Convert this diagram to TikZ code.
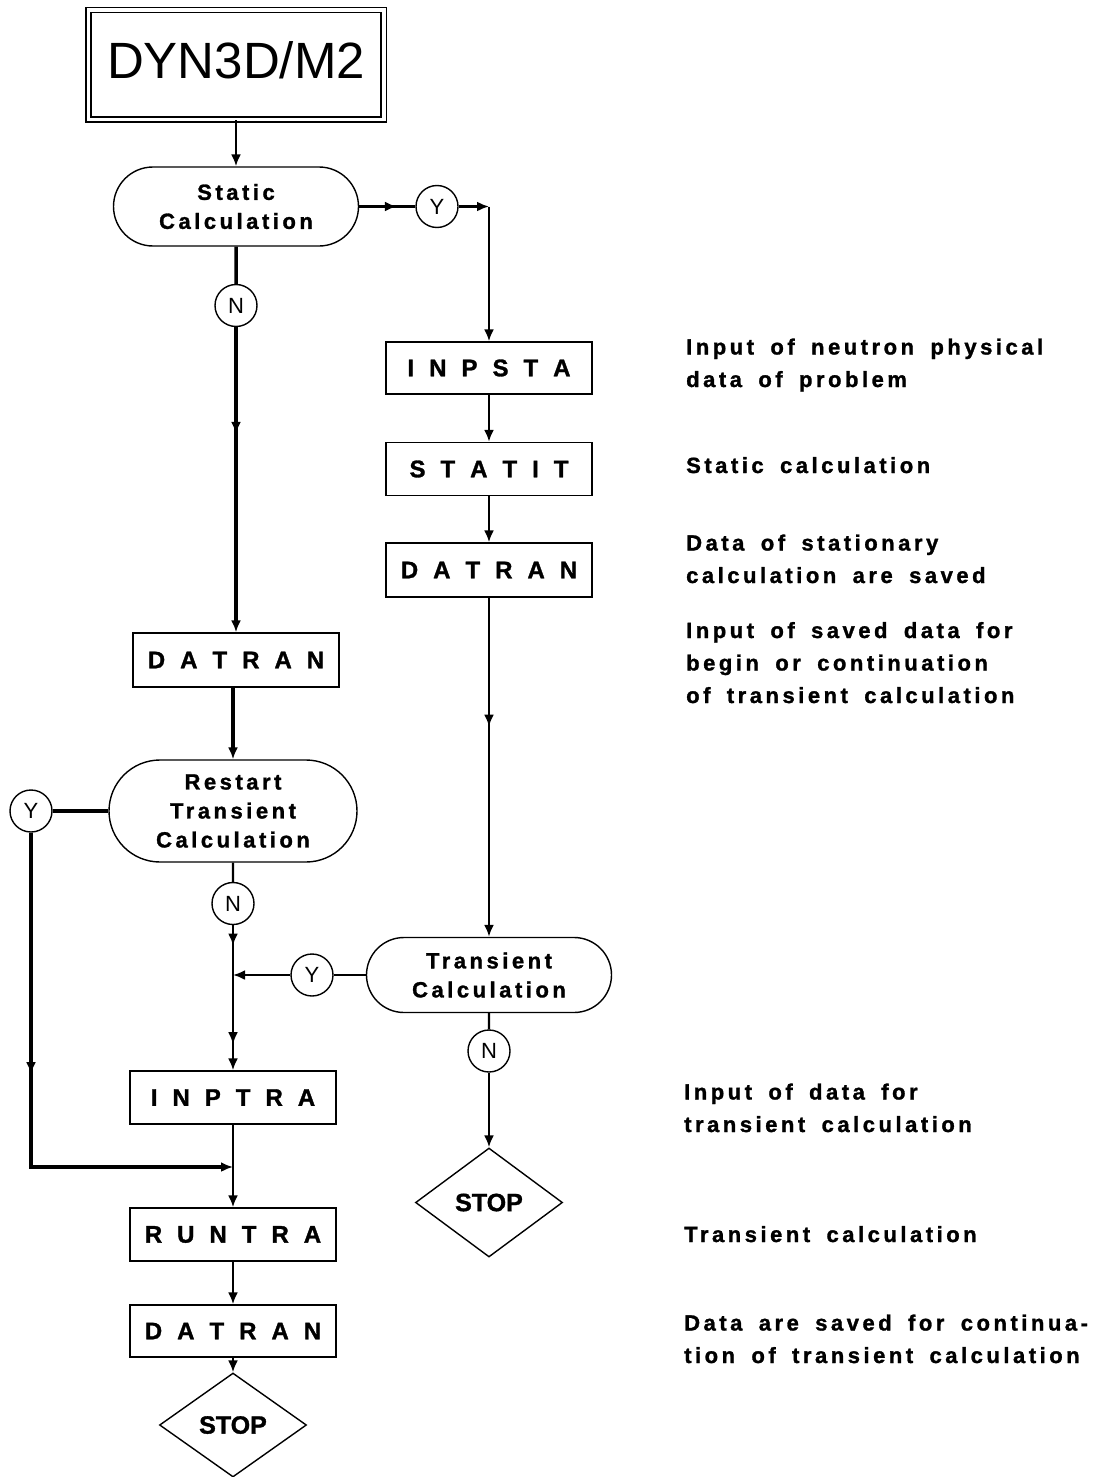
\documentclass[tikz,border=0pt]{standalone}
\usepackage{fontspec}
\setmainfont{Liberation Sans}[BoldFeatures={FakeBold=1.3}]
\newfontfamily\lblfont[LetterSpace=16,WordSpace=1.7,BoldFeatures={FakeBold=1.3}]{Liberation Sans}
\usetikzlibrary{arrows.meta,shapes.geometric,shapes.misc,decorations.markings}
\newcommand\gp{\hspace{15pt}}
\begin{document}
\begin{tikzpicture}[x=1pt,y=-1pt,
  box/.style={draw, line width=1.4pt, minimum width=206pt, minimum height=53pt, inner sep=0pt,
    font=\bfseries\fontsize{24}{28}\selectfont},
  decide/.style={rounded rectangle, draw, line width=1.4pt, inner sep=0pt, align=center,
    font={\lblfont\bfseries\fontsize{22}{29}\selectfont}},
  circ/.style={circle, draw, line width=1.4pt, minimum size=42pt, inner sep=0pt,
    font=\fontsize{22}{26}\selectfont},
  stopd/.style={diamond, draw, line width=1.4pt, minimum width=147pt, minimum height=106pt, inner sep=0pt,
    font=\bfseries\fontsize{25}{30}\selectfont},
  desc/.style={anchor=base west, align=left, inner sep=0pt,
    font={\lblfont\bfseries\fontsize{22}{32.5}\selectfont}},
  conn/.style={line width=2.3pt},
  thickconn/.style={line width=3.5pt},
  arr/.style={-{Latex[length=12pt,width=10pt]}},
  midarr/.style={postaction={decorate}, decoration={markings,
    mark=at position #1 with {\arrow{Latex[length=12pt,width=10pt]}}}},
  midarrtwo/.style 2 args={postaction={decorate}, decoration={markings,
    mark=at position #1 with {\arrow{Latex[length=12pt,width=10pt]}},
    mark=at position #2 with {\arrow{Latex[length=12pt,width=10pt]}}}}
]
\useasboundingbox (0,0) rectangle (1118,1477);
\fill[white] (0,0) rectangle (1118,1477);

% title
\node[draw, double, double distance=3.5pt, line width=1.6pt, minimum width=295.5pt, minimum height=109.5pt,
  inner sep=0pt, text depth=10pt, font=\fontsize{51}{60}\selectfont] (dyn) at (236,64.75) {DYN3D/M2};

% left / main column
\node[decide, minimum width=245pt, minimum height=79pt] (sc) at (236,206.5) {Static\\Calculation};
\node[circ] (nS) at (236,305.5) {N};
\node[circ] (yS) at (437,206.5) {Y};
\node[box, minimum height=54pt] (datranL) at (236,660) {D\gp A\gp T\gp R\gp A\gp N};
\node[decide, minimum width=248pt, minimum height=102pt] (rs) at (233,811) {Restart\\Transient\\Calculation};
\node[circ] (yR) at (31,811) {Y};
\node[circ] (nR) at (233,903.5) {N};
\node[box] (inptra) at (233,1097.5) {I\gp N\gp P\gp T\gp R\gp A};
\node[box] (runtra) at (233,1234.5) {R\gp U\gp N\gp T\gp R\gp A};
\node[box, minimum height=52pt] (datranB) at (233,1331) {D\gp A\gp T\gp R\gp A\gp N};
\node[stopd, minimum height=104pt] (stopB) at (233,1425) {STOP};

% right column
\node[box, minimum height=52pt] (inpsta) at (489,368) {I\gp N\gp P\gp S\gp T\gp A};
\node[box] (statit) at (489,469) {S\gp T\gp A\gp T\gp I\gp T};
\node[box, minimum height=54pt] (datranR) at (489,570) {D\gp A\gp T\gp R\gp A\gp N};
\node[decide, minimum width=245pt, minimum height=75pt] (tc) at (489,975) {Transient\\Calculation};
\node[circ] (yT) at (312,975) {Y};
\node[circ] (nT) at (489,1051) {N};
\node[stopd, minimum height=109pt] (stopR) at (489,1202.5) {STOP};

\coordinate (c1) at (489,206.5);
\coordinate (j1) at (233,975);
\coordinate (c2) at (31,1167);
\coordinate (j2) at (233,1167);

% connectors
\draw[conn,arr] (dyn.south) -- (sc.north);
\draw[conn,midarr=0.67] (sc.east) -- (yS.west);
\draw[conn,arr] (yS.east) -- (c1);
\draw[conn,arr] (c1) -- (inpsta.north);
\draw[conn,arr] (inpsta) -- (statit);
\draw[conn,arr] (statit) -- (datranR);
\draw[conn,arr,midarr=0.38] (datranR) -- (tc);

\draw[thickconn] (sc) -- (nS);
\draw[thickconn,arr,midarr=0.35] (nS) -- (datranL);
\draw[thickconn,arr] (datranL.south -| rs.north) -- (rs.north);
\draw[thickconn] (rs.west) -- (yR.east);
\draw[thickconn,arr,midarr=0.45] (yR.south) -- (c2) -- (j2);

\draw[conn] (rs) -- (nR);
\draw[conn,arr,midarrtwo={0.14}{0.82}] (nR) -- (inptra);
\draw[conn] (tc) -- (yT);
\draw[conn,arr] (yT) -- (j1);
\draw[conn] (tc) -- (nT);
\draw[conn,arr] (nT) -- (stopR);
\draw[conn,arr] (inptra) -- (runtra);
\draw[conn,arr] (runtra) -- (datranB);
\draw[conn,arr] (datranB) -- (stopB);

% descriptions (anchor = baseline of last line)
\node[desc] (d1) at (686,387) {Input of neutron physical\\data of problem};
\node[desc] (d2) at (686,473) {Static calculation};
\node[desc] (d3) at (686,583) {Data of stationary\\calculation are saved};
\node[desc] (d4) at (686,703) {Input of saved data for\\begin or continuation\\of transient calculation};
\node[desc] (d5) at (684,1132) {Input of data for\\transient calculation};
\node[desc] (d6) at (684,1242) {Transient calculation};
\node[desc] (d7) at (684,1363) {Data are saved for continua-\\tion of transient calculation};
\end{tikzpicture}
\end{document}
